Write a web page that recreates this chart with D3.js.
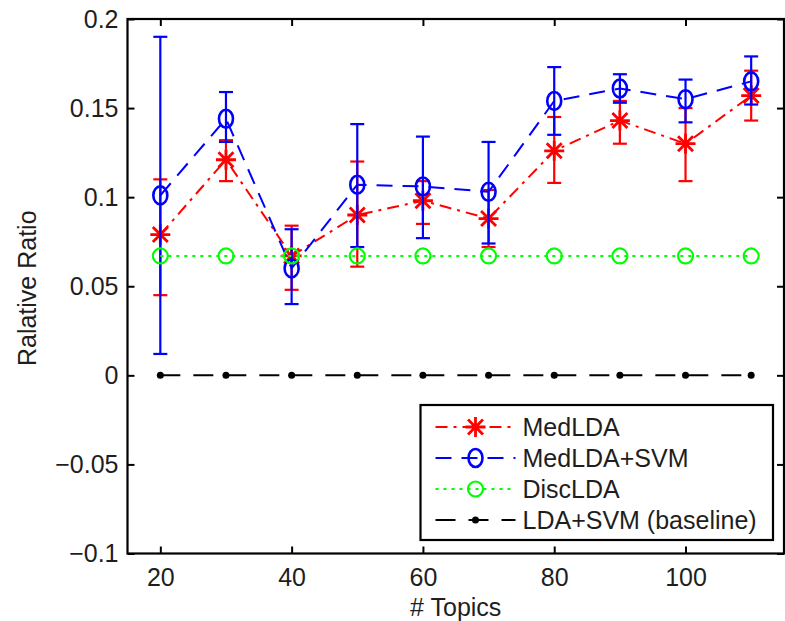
<!DOCTYPE html>
<meta charset="utf-8">
<script src="https://d3js.org/d3.v7.min.js"></script>
<style>
  body { margin: 0; background: #fff; }
  text { font-family: "Liberation Sans", Arial, sans-serif; fill: #1e1e1e; }
</style>
<div id="chart"></div>
<script>

// data
var topics = [20, 30, 40, 50, 60, 70, 80, 90, 100, 110];

var medlda   = [0.079, 0.121, 0.067, 0.090, 0.098, 0.088, 0.126, 0.143, 0.130, 0.157];
var medldaLo = [0.045, 0.109, 0.048, 0.061, 0.085, 0.072, 0.108, 0.130, 0.109, 0.143];
var medldaHi = [0.110, 0.132, 0.084, 0.120, 0.109, 0.104, 0.145, 0.154, 0.150, 0.171];

var svm   = [0.101, 0.144, 0.060, 0.107, 0.106, 0.103, 0.154, 0.161, 0.155, 0.165];
var svmLo = [0.012, 0.131, 0.040, 0.072, 0.077, 0.074, 0.135, 0.153, 0.142, 0.152];
var svmHi = [0.190, 0.159, 0.082, 0.141, 0.134, 0.131, 0.173, 0.169, 0.166, 0.179];

var disclda  = [0.067, 0.067, 0.067, 0.067, 0.067, 0.067, 0.067, 0.067, 0.067, 0.067];
var baseline = [0, 0, 0, 0, 0, 0, 0, 0, 0, 0];

var xTicks = [20, 40, 60, 80, 100];
var yTicks = [-0.1, -0.05, 0, 0.05, 0.1, 0.15, 0.2];
var legendLabels = ["MedLDA", "MedLDA+SVM", "DiscLDA", "LDA+SVM (baseline)"];

var W = 785, H = 621;
var margin = {top: 19, right: 1, bottom: 67.5, left: 127.5},
    width = W - margin.left - margin.right,
    height = H - margin.top - margin.bottom;
var fs = 25;

var svg = d3.select("#chart")
  .append("svg")
    .attr("width", W)
    .attr("height", H)
  .append("g")
    .attr("transform", "translate(" + margin.left + "," + margin.top + ")");

var x = d3.scaleLinear().domain([15, 115]).range([0, width]);
var y = d3.scaleLinear().domain([-0.1, 0.2]).range([height, 0]);

var fmt = function(d) { return d === 0 ? "0" : (d < 0 ? "\u2212" : "") + Math.abs(d); };

// axes, matlab style box with inward ticks
function styleAxis(g) {
  g.select(".domain").remove();
  g.selectAll(".tick line").attr("stroke", "#000").attr("stroke-width", 2);
  g.selectAll("text").attr("font-size", fs).attr("fill", "#1e1e1e");
}
svg.append("g")
  .attr("transform", "translate(0," + height + ")")
  .call(d3.axisBottom(x).tickValues(xTicks).tickSizeInner(-7).tickSizeOuter(0).tickPadding(15))
  .call(styleAxis);
svg.append("g")
  .call(d3.axisTop(x).tickValues(xTicks).tickSizeInner(-7).tickSizeOuter(0).tickFormat(""))
  .call(styleAxis);
svg.append("g")
  .call(d3.axisLeft(y).tickValues(yTicks).tickSizeInner(-7).tickSizeOuter(0).tickPadding(9).tickFormat(fmt))
  .call(styleAxis);
svg.append("g")
  .attr("transform", "translate(" + width + ",0)")
  .call(d3.axisRight(y).tickValues(yTicks).tickSizeInner(-7).tickSizeOuter(0).tickFormat(""))
  .call(styleAxis);

svg.append("rect")
  .attr("width", width).attr("height", height)
  .attr("fill", "none").attr("stroke", "#000").attr("stroke-width", 2.2);

// axis titles
svg.append("text")
  .attr("x", width / 2).attr("y", height + 62)
  .attr("text-anchor", "middle").attr("font-size", fs)
  .text("# Topics");
svg.append("text")
  .attr("transform", "translate(" + (36 - margin.left) + "," + (height / 2 + 2) + ") rotate(-90)")
  .attr("text-anchor", "middle").attr("font-size", fs)
  .text("Ralative Ratio");

// marker shapes
var asterisk = {
  draw: function(ctx, size) {
    var r = Math.sqrt(size) / 2, d = r * 0.75;
    ctx.moveTo(-r, 0); ctx.lineTo(r, 0);
    ctx.moveTo(0, -r); ctx.lineTo(0, r);
    ctx.moveTo(-d, -d); ctx.lineTo(d, d);
    ctx.moveTo(-d, d); ctx.lineTo(d, -d);
  }
};

function drawMarker(g, type, color) {
  if (type === "star") {
    g.append("path").attr("d", d3.symbol(asterisk, 400)())
      .attr("fill", "none").attr("stroke", color).attr("stroke-width", 2.8);
  } else if (type === "oval") {
    g.append("ellipse").attr("rx", 7).attr("ry", 9)
      .attr("fill", "none").attr("stroke", color).attr("stroke-width", 2.6);
  } else if (type === "circle") {
    g.append("circle").attr("r", 7.5)
      .attr("fill", "none").attr("stroke", color).attr("stroke-width", 2.2);
  } else {
    g.append("circle").attr("r", 3.5).attr("fill", color);
  }
}

var series = [
  {vals: medlda, lo: medldaLo, hi: medldaHi, color: "#ff0000", dash: "12,6,3,6", marker: "star"},
  {vals: svm, lo: svmLo, hi: svmHi, color: "#0000ff", dash: "16,10", marker: "oval"},
  {vals: disclda, color: "#00ff00", dash: "3,5", marker: "circle"},
  {vals: baseline, color: "#000000", dash: "20,13", marker: "dot"}
];

var line = d3.line()
  .x(function(d) { return x(d[0]); })
  .y(function(d) { return y(d[1]); });

series.forEach(function(s) {
  var pts = topics.map(function(t, i) { return [t, s.vals[i]]; });
  var g = svg.append("g");

  g.append("path")
    .datum(pts)
    .attr("d", line)
    .attr("fill", "none")
    .attr("stroke", s.color)
    .attr("stroke-width", 2)
    .attr("stroke-dasharray", s.dash);

  if (s.lo) {
    topics.forEach(function(t, i) {
      var cx = x(t), cap = 7;
      var eb = g.append("g").attr("stroke", s.color).attr("stroke-width", 2.2);
      eb.append("line").attr("x1", cx).attr("x2", cx).attr("y1", y(s.lo[i])).attr("y2", y(s.hi[i]));
      eb.append("line").attr("x1", cx - cap).attr("x2", cx + cap).attr("y1", y(s.lo[i])).attr("y2", y(s.lo[i]));
      eb.append("line").attr("x1", cx - cap).attr("x2", cx + cap).attr("y1", y(s.hi[i])).attr("y2", y(s.hi[i]));
    });
  }

  pts.forEach(function(p) {
    var m = g.append("g").attr("transform", "translate(" + x(p[0]) + "," + y(p[1]) + ")");
    drawMarker(m, s.marker, s.color);
  });
});

// legend
var lg = svg.append("g").attr("transform", "translate(" + (420.5 - margin.left) + "," + (405 - margin.top) + ")");
lg.append("rect")
  .attr("width", 352.5).attr("height", 135)
  .attr("fill", "#fff").attr("stroke", "#000").attr("stroke-width", 2.2);

legendLabels.forEach(function(label, i) {
  var s = series[i];
  var ry = 22 + i * 31;
  lg.append("line")
    .attr("x1", 15).attr("x2", 95).attr("y1", ry).attr("y2", ry)
    .attr("stroke", s.color).attr("stroke-width", 2)
    .attr("stroke-dasharray", s.dash);
  var m = lg.append("g").attr("transform", "translate(55," + ry + ")");
  drawMarker(m, s.marker, s.color);
  lg.append("text")
    .attr("x", 102).attr("y", ry).attr("dy", "0.36em")
    .attr("font-size", fs)
    .text(label);
});

</script>
